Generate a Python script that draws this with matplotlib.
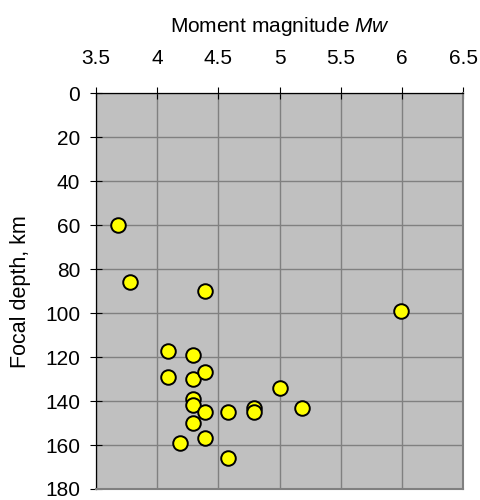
import matplotlib
matplotlib.use("Agg")
import matplotlib.pyplot as plt

plt.rcParams['font.family'] = ['Liberation Sans', 'DejaVu Sans']
plt.rcParams['mathtext.fontset'] = 'custom'
plt.rcParams['mathtext.it'] = 'Liberation Sans:italic'
plt.rcParams['mathtext.rm'] = 'Liberation Sans'

magnitude = [3.68, 3.78, 4.39, 4.09, 4.29, 4.09, 4.29, 4.39, 5.0, 4.29,
             4.29, 4.39, 4.58, 4.79, 4.79, 5.18, 4.29, 4.19, 4.39, 4.58, 5.99]
depth = [60, 86, 90, 117, 119, 129, 130, 127, 134, 139,
         142, 145, 145, 143, 145, 143, 150, 159, 157, 166, 99]

x_ticks = [3.5, 4, 4.5, 5, 5.5, 6, 6.5]
x_labels = ["3.5", "4", "4.5", "5", "5.5", "6", "6.5"]
y_ticks = [0, 20, 40, 60, 80, 100, 120, 140, 160, 180]

fig = plt.figure(figsize=(4.8, 5), dpi=100)
ax = fig.add_axes([96/480, 1 - 489/500, (463.3 - 96)/480, (489 - 93.3)/500])
ax.set_facecolor('#c0c0c0')
ax.set_xlim(3.5, 6.5)
ax.set_ylim(180, 0)
ax.xaxis.tick_top()
ax.xaxis.set_label_position('top')
ax.set_xticks(x_ticks)
ax.set_xticklabels(x_labels)
ax.set_yticks(y_ticks)
ax.grid(True, color='#808080', linewidth=1.0)
ax.set_axisbelow(True)
ax.tick_params(axis='both', direction='inout', length=9, width=0.8, labelsize=15, colors='black')
ax.tick_params(axis='x', pad=14)
ax.tick_params(axis='y', pad=7)

for side in ['bottom', 'right']:
    ax.spines[side].set_color('#808080')
    ax.spines[side].set_linewidth(1.5)
for side in ['top', 'left']:
    ax.spines[side].set_color('black')
    ax.spines[side].set_linewidth(0.9)

ax.scatter(magnitude, depth, s=110, c='#ffff00', edgecolors='black', linewidths=1.4, zorder=3)

ax.set_xlabel("Moment magnitude $\\mathit{Mw}$", fontsize=15, labelpad=12)
ax.set_ylabel("Focal depth, km", fontsize=15.5, labelpad=10)

fig.savefig("out.png", dpi=100)
